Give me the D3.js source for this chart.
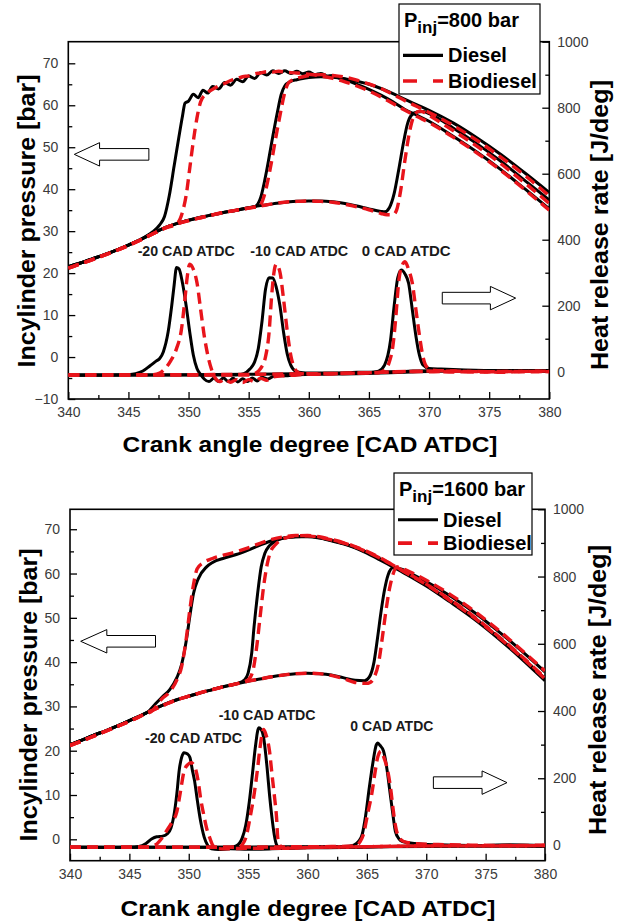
<!DOCTYPE html>
<html>
<head>
<meta charset="utf-8">
<script src="https://cdn.jsdelivr.net/npm/d3@7"></script>
<style>
  body { margin: 0; background: #fff; }
  svg { display: block; font-family: "Liberation Sans", Arial, sans-serif; }
</style>
</head>
<body>
<div id="chart"></div>
<script>
// ---- tick values ----
const cadTicks = [340, 345, 350, 355, 360, 365, 370, 375, 380];
const cadMinor = [342.5, 347.5, 352.5, 357.5, 362.5, 367.5, 372.5, 377.5];
const presTicksTop = [-10, 0, 10, 20, 30, 40, 50, 60, 70];
const presMinorTop = [-5, 5, 15, 25, 35, 45, 55, 65];
const presTicksBot = [0, 10, 20, 30, 40, 50, 60, 70];
const presMinorBot = [5, 15, 25, 35, 45, 55, 65];
const hrrTicks = [0, 200, 400, 600, 800, 1000];
const hrrMinor = [100, 300, 500, 700, 900];
const timingLabels = ["-20 CAD ATDC", "-10 CAD ATDC", "0 CAD ATDC"];

// ---- 800 bar : in-cylinder pressure [bar] ----
const motored800D = [[340,21.5],[341,22.4],[342,23.4],[343,24.4],[344,25.5],[345,26.7],[346,28.0],[347,29.4],[348,30.8],[349,31.8],[350,32.6],[351,33.3],[352,33.9],[353,34.5],[354,35.0],[355,35.6],[356,36.1],[357,36.5],[358,36.9],[359,37.1],[360,37.2],[361,37.2],[362,37.0],[363,36.6],[364,36.0],[365,35.3],[366,34.7],[366.3,34.6]];
const motored800B = [[340,21.2],[341,22.2],[342,23.2],[343,24.3],[344,25.4],[345,26.6],[346,27.9],[347,29.3],[348,30.7],[349,31.7],[350,32.5],[351,33.2],[352,33.9],[353,34.5],[354,35.0],[355,35.5],[356,36.0],[357,36.5],[358,36.9],[359,37.1],[360,37.2],[361,37.1],[362,36.9],[363,36.4],[364,35.8],[365,35.1],[366,34.2],[366.5,33.9],[367,33.9]];
const p800D20 = [[346,28.0],[347,29.8],[347.6,31.5],[348,33.5],[348.4,38.5],[348.8,45.5],[349.2,52.5],[349.5,57.5],[349.7,60.5],[350.0,61.0],[350.4,62.6],[350.8,61.8],[351.2,63.6],[351.6,62.9],[352.0,64.5],[352.5,63.9],[353.0,65.4],[353.5,64.8],[354.0,66.2],[354.5,65.6],[355.0,67.0],[355.5,66.4],[356.0,67.8],[356.5,67.2],[357.0,68.2],[357.5,67.6],[358.0,68.2],[358.5,67.6],[359.0,68.1],[359.5,67.5],[360.0,67.9],[360.5,67.3],[361.0,67.6],[361.5,67.0],[362.0,67.1],[362.5,66.5],[363.0,66.2],[363.5,65.6],[364,65.0],[365,63.8],[366,62.4],[367,60.8],[368,59.0],[369,57.6],[370,56.2],[372,52.6],[374,48.8],[376,44.6],[378,40.0],[380,35.3]];
const p800D10 = [[355.5,35.8],[356,38.0],[356.5,44.5],[357,52.5],[357.4,58.5],[357.7,62.5],[358.0,64.6],[358.5,65.7],[359,66.1],[359.5,66.4],[360,66.6],[361,66.8],[362,66.7],[363,66.3],[364,65.7],[365,65.0],[366,64.0],[367,62.8],[368,61.4],[369,60.1],[370,58.8],[372,55.8],[374,52.2],[376,48.2],[378,43.8],[380,39.2]];
const p800D0 = [[366.3,34.6],[366.7,35.6],[367.1,39.0],[367.5,45.0],[367.9,51.5],[368.2,55.5],[368.5,57.5],[369,58.4],[369.5,58.5],[370,58.0],[372,54.6],[374,50.8],[376,46.6],[378,42.0],[380,37.4]];
const p800B20 = [[349,31.7],[349.5,34.6],[349.8,38.5],[350.1,45.0],[350.4,51.5],[350.7,57.0],[351.0,60.8],[351.4,62.6],[352,63.8],[352.5,64.6],[353,65.2],[353.5,65.9],[354,66.3],[354.5,66.8],[355,67.0],[355.5,67.5],[356,67.7],[356.5,68.0],[357,67.9],[357.5,68.1],[358,67.9],[359,67.7],[360,67.4],[361,67.0],[362,66.4],[363,65.6],[364,64.6],[365,63.4],[366,62.0],[367,60.4],[368,58.8],[369,57.3],[370,55.9],[372,52.4],[374,48.6],[376,44.4],[378,39.8],[380,35.0]];
const p800B10 = [[355.9,36.0],[356.3,38.5],[356.8,45.0],[357.3,53.0],[357.7,59.0],[358.0,63.0],[358.3,65.3],[358.8,66.2],[359.5,66.8],[360,67.1],[361,67.3],[362,67.1],[363,66.7],[364,66.0],[365,65.1],[366,64.0],[367,62.6],[368,61.1],[369,59.7],[370,58.3],[372,55.2],[374,51.6],[376,47.6],[378,43.2],[380,38.4]];
const p800B0 = [[367,33.9],[367.3,35.0],[367.6,39.0],[368.0,47.0],[368.4,54.0],[368.8,57.8],[369.2,58.6],[369.6,58.3],[370,57.6],[372,54.0],[374,50.2],[376,46.0],[378,41.4],[380,36.6]];

// ---- 800 bar : heat release rate [J/deg] ----
const h800D20 = [[340,-10],[342,-11],[344,-10],[345,-9],[345.6,-6],[346.2,2],[346.8,18],[347.3,32],[347.6,40],[347.9,60],[348.3,120],[348.6,200],[348.8,262],[349.0,316],[349.2,312],[349.5,268],[349.8,200],[350.1,120],[350.4,50],[350.7,10],[351.0,-8],[351.3,-22],[351.7,-30],[352.1,-20],[352.5,-30],[352.9,-19],[353.3,-30],[353.7,-20],[354.1,-31],[354.5,-21],[354.9,-30],[355.3,-19],[355.7,-28],[356.1,-17],[356.6,-22],[357.2,-12],[358,-12],[359,-9],[360,-8],[362,-7],[364,-6],[366,-4],[368,-2],[370,1],[372,3],[374,2],[376,4],[378,3],[380,3]];
const h800D10 = [[340,-10],[345,-10],[350,-10],[354,-10],[354.6,-6],[355.1,8],[355.5,30],[355.8,70],[356.1,150],[356.4,250],[356.7,285],[357.0,284],[357.3,255],[357.6,200],[357.9,120],[358.2,55],[358.5,20],[358.9,2],[359.5,-3],[360,-4],[362,-4],[364,-2],[366,-1],[368,1],[370,3],[372,2],[375,3],[378,2],[380,3]];
const h800D0 = [[340,-10],[345,-10],[350,-9],[355,-8],[360,-6],[363,-5],[365,-3],[365.8,2],[366.3,20],[366.8,96],[367.1,200],[367.4,285],[367.7,308],[368.0,296],[368.3,268],[368.6,190],[368.9,110],[369.2,50],[369.5,20],[370,10],[371,8],[373,5],[376,3],[380,4]];
const h800B20 = [[340,-10],[344,-10],[347,-9],[347.6,-4],[348.0,8],[348.5,32],[349.0,70],[349.4,126],[349.7,220],[349.9,290],[350.1,326],[350.4,310],[350.7,270],[351.0,190],[351.3,110],[351.6,50],[351.9,8],[352.2,-18],[352.6,-30],[353.0,-22],[353.5,-32],[354.0,-24],[354.5,-33],[355.0,-24],[355.5,-30],[356,-20],[356.5,-26],[357,-16],[358,-12],[359,-10],[360,-7],[362,-6],[364,-4],[366,-2],[368,0],[370,2],[372,-1],[374,1],[376,-2],[378,1],[380,0]];
const h800B10 = [[340,-10],[345,-10],[350,-10],[355,-10],[355.6,-4],[356.0,10],[356.4,45],[356.7,120],[356.9,225],[357.1,300],[357.3,326],[357.6,302],[357.9,220],[358.2,125],[358.5,50],[358.8,12],[359.2,-4],[360,-8],[362,-6],[364,-4],[366,-2],[368,1],[370,0],[372,2],[374,-1],[376,1],[378,0],[380,1]];
const h800B0 = [[340,-10],[345,-10],[350,-9],[355,-8],[360,-6],[364,-4],[365.8,-3],[366.3,5],[366.7,30],[367.0,80],[367.2,150],[367.5,280],[367.8,325],[368.0,333],[368.3,310],[368.6,270],[368.9,190],[369.2,110],[369.5,45],[369.8,15],[370.3,5],[372,2],[375,0],[378,1],[380,2]];

// ---- 1600 bar : in-cylinder pressure [bar] ----
const motored1600D = [[340,21.4],[341,22.4],[342,23.5],[343,24.5],[344,25.6],[345,26.8],[346,28.0],[347,29.3],[348,30.5],[349,31.5],[350,32.3],[351,33.1],[352,33.8],[353,34.5],[354,35.1],[355,35.7],[356,36.2],[357,36.7],[358,37.1],[359,37.4],[360,37.5],[361,37.4],[362,37.1],[363,36.5],[364,35.9],[364.8,35.8]];
const motored1600B = [[340,21.2],[341,22.2],[342,23.3],[343,24.4],[344,25.5],[345,26.6],[346,27.9],[347,29.2],[348,30.4],[349,31.5],[350,32.3],[351,33.1],[352,33.8],[353,34.5],[354,35.1],[355,35.7],[356,36.2],[357,36.7],[358,37.1],[359,37.4],[360,37.5],[361,37.4],[362,37.0],[363,36.3],[364,35.4],[365,35.2]];
const p1600D20 = [[346.5,28.6],[347.2,30.6],[347.8,32.2],[348.4,33.8],[349,36.5],[349.4,39.5],[349.8,45.0],[350.1,50.5],[350.4,55.5],[350.8,58.8],[351.5,61.5],[352,62.5],[353,63.5],[354,64.3],[355,65.3],[356,66.4],[357,67.4],[358,68.0],[359,68.3],[360,68.3],[361,68.0],[362,67.4],[363,66.7],[364,65.8],[365,64.6],[366,63.2],[367,61.8],[368,60.3],[369,58.8],[370,57.2],[372,53.6],[374,49.8],[376,45.5],[378,40.8],[380,35.8]];
const p1600D10 = [[354.7,36.0],[355.0,37.5],[355.3,42.0],[355.5,48.0],[355.8,55.5],[356.1,61.5],[356.4,64.5],[356.8,66.3],[357.3,67.3],[358,68.0],[359,68.3],[360,68.4],[361,68.1],[362,67.5],[363,66.8],[364,65.9],[365,64.8],[366,63.5],[367,62.0],[368,60.5],[369,59.0],[370,57.4],[372,53.9],[374,50.1],[376,45.8],[378,41.2],[380,36.3]];
const p1600D0 = [[364.8,35.8],[365.2,36.6],[365.6,40.0],[365.9,45.5],[366.2,51.5],[366.5,56.5],[366.8,59.8],[367.2,61.3],[367.6,61.2],[368,60.9],[369,59.6],[370,58.2],[372,55.0],[374,51.3],[376,47.1],[378,42.6],[380,37.8]];
const p1600B20 = [[347,29.2],[347.7,31.6],[348.4,33.3],[349,36.0],[349.4,39.0],[349.8,45.5],[350.1,52.0],[350.4,57.5],[350.7,61.0],[351.2,62.4],[352,63.4],[353,64.2],[354,64.9],[355,65.8],[356,66.8],[357,67.7],[358,68.3],[359,68.6],[360,68.5],[361,68.2],[362,67.6],[363,66.9],[364,66.0],[365,64.9],[366,63.6],[367,62.2],[368,60.6],[369,59.1],[370,57.5],[372,53.9],[374,50.1],[376,45.8],[378,41.2],[380,36.2]];
const p1600B10 = [[355.0,36.0],[355.4,38.0],[355.7,43.0],[356.0,50.0],[356.3,57.0],[356.6,62.0],[356.9,65.0],[357.3,66.5],[358,67.9],[359,68.5],[360,68.6],[361,68.3],[362,67.7],[363,67.0],[364,66.1],[365,65.0],[366,63.7],[367,62.2],[368,60.7],[369,59.2],[370,57.6],[372,54.1],[374,50.3],[376,46.0],[378,41.4],[380,36.5]];
const p1600B0 = [[365.2,35.3],[365.6,36.5],[366.0,40.0],[366.3,45.5],[366.6,51.5],[366.9,56.5],[367.2,59.8],[367.5,61.5],[367.8,61.5],[368.2,60.9],[369,59.9],[370,58.5],[372,55.3],[374,51.6],[376,47.4],[378,42.8],[380,38.0]];

// ---- 1600 bar : heat release rate [J/deg] ----
const h1600D20 = [[340,-5],[343,-6],[345,-5],[345.8,-3],[346.4,6],[346.9,20],[347.3,26],[347.8,28],[348.2,35],[348.5,52],[348.8,100],[349.0,155],[349.2,225],[349.4,262],[349.6,276],[349.9,272],[350.1,262],[350.3,225],[350.5,190],[350.7,140],[351.0,72],[351.3,25],[351.6,0],[351.9,-10],[352.5,-12],[353.5,-10],[355,-11],[357,-10],[360,-7],[363,-6],[366,-4],[370,-3],[375,-2],[380,-3]];
const h1600D10 = [[340,-5],[350,-5],[353.5,-5],[354.0,-1],[354.5,22],[354.8,60],[355.1,130],[355.4,225],[355.6,290],[355.9,350],[356.1,345],[356.3,322],[356.6,230],[356.8,151],[357.0,85],[357.2,32],[357.4,2],[357.7,-8],[358.5,-8],[360,-6],[364,-5],[368,-2],[372,-1],[376,-1],[380,0]];
const h1600D0 = [[340,-5],[350,-5],[358,-4],[362,-3],[363.5,-2],[363.9,1],[364.3,12],[364.6,32],[364.9,90],[365.2,171],[365.5,245],[365.8,300],[365.9,305],[366.1,298],[366.4,281],[366.7,225],[366.9,171],[367.2,90],[367.4,42],[367.7,20],[368,12],[369,6],[371,2],[374,0],[377,2],[380,0]];
const h1600B20 = [[340,-5],[345,-5],[346.5,-4],[347.2,2],[347.7,20],[348.1,42],[348.6,70],[349.0,101],[349.3,160],[349.6,220],[349.9,240],[350.2,246],[350.5,235],[350.8,190],[351.0,140],[351.3,85],[351.5,52],[351.8,20],[352.0,2],[352.4,-9],[353,-10],[354,-9],[356,-8],[358,-8],[360,-6],[364,-4],[368,-2],[372,-1],[376,-1],[380,0]];
const h1600B10 = [[340,-5],[350,-5],[354.2,-5],[354.5,2],[354.8,22],[355.2,90],[355.5,151],[355.8,230],[356.0,291],[356.3,345],[356.5,330],[356.8,281],[357.0,215],[357.2,151],[357.4,80],[357.5,22],[357.9,-8],[358.5,-8],[360,-6],[364,-4],[368,-2],[372,-1],[376,-1],[380,0]];
const h1600B0 = [[340,-5],[350,-5],[358,-4],[362,-3],[364,-1],[364.4,10],[364.7,32],[365.1,100],[365.4,151],[365.7,220],[365.9,261],[366.2,281],[366.4,265],[366.7,231],[367.0,170],[367.2,111],[367.4,60],[367.6,32],[368.1,12],[369,6],[371,3],[374,1],[377,0],[380,1]];

// ---- annotation anchors (data coordinates) ----
const labelPos800 = [[349.8, 24.1], [359.2, 24.1], [368.1, 24.1]];
const labelPos1600 = [[350.4, 21.7], [356.6, 26.9], [367.1, 24.4]];

// join the motored trace with the firing part that starts after it
function fired(motored, pts) {
  return motored.filter(d => d[0] < pts[0][0]).concat(pts);
}

const W = 623, H = 922;
const svg = d3.select("#chart").append("svg")
  .attr("width", W).attr("height", H);
svg.append("rect").attr("width", W).attr("height", H).attr("fill", "#fff");

const panels = [
  {
    id: "p800", box: {l: 68.3, r: 549.3, t: 41.7, b: 399},
    yL: [-10, 75.15], yR: [-82.7, 1000],
    presTicks: presTicksTop, presMinor: presMinorTop,
    diesel: [fired(motored800D, p800D20), fired(motored800D, p800D10), fired(motored800D, p800D0)],
    bio: [fired(motored800B, p800B20), fired(motored800B, p800B10), fired(motored800B, p800B0)],
    dieselH: [h800D20, h800D10, h800D0],
    bioH: [h800B20, h800B10, h800B0],
    labels: labelPos800, labelW: [97, 98, 89],
    arrowL: {tip: 340.5, base: 342.6, tail: 346.7, v: 48.3},
    arrowR: {tip: 377.2, base: 375.1, tail: 371.1, v: 223},
    legend: {x: 399, y: 4, w: 141, h: 90, title: "=800 bar"},
    yTitleL: {x: 35, y: 221}, yTitleR: {x: 608, y: 225}, xTitle: {x: 310, y: 452}
  },
  {
    id: "p1600", box: {l: 70, r: 545, t: 509.3, b: 860.7},
    yL: [-4.83, 74.5], yR: [-45.2, 1000],
    presTicks: presTicksBot, presMinor: presMinorBot,
    diesel: [fired(motored1600D, p1600D20), fired(motored1600D, p1600D10), fired(motored1600D, p1600D0)],
    bio: [fired(motored1600B, p1600B20), fired(motored1600B, p1600B10), fired(motored1600B, p1600B0)],
    dieselH: [h1600D20, h1600D10, h1600D0],
    bioH: [h1600B20, h1600B10, h1600B0],
    labels: labelPos1600, labelW: [97, 97, 83],
    arrowL: {tip: 340.9, base: 343.1, tail: 347.2, v: 44.7},
    arrowR: {tip: 376.8, base: 374.7, tail: 370.6, v: 187},
    legend: {x: 394, y: 473, w: 138, h: 82, title: "=1600 bar"},
    yTitleL: {x: 37, y: 695}, yTitleR: {x: 606, y: 690}, xTitle: {x: 308, y: 916}
  }
];

panels.forEach(cfg => {
  const b = cfg.box;
  const x = d3.scaleLinear().domain([340, 380]).range([b.l, b.r]);
  const yL = d3.scaleLinear().domain(cfg.yL).range([b.b, b.t]);
  const yR = d3.scaleLinear().domain(cfg.yR).range([b.b, b.t]);
  const g = svg.append("g");
  const fmt = d3.format("d");

  g.append("clipPath").attr("id", "clip-" + cfg.id)
    .append("rect").attr("x", b.l).attr("y", b.t)
    .attr("width", b.r - b.l).attr("height", b.b - b.t);

  // axes: inward ticks
  const styleAxis = sel => {
    sel.select(".domain").remove();
    sel.selectAll("line").attr("stroke", "#000").attr("stroke-width", 1.3);
    sel.selectAll("text").attr("font-size", 14).attr("fill", "#3a3a3a")
      .attr("font-family", "Liberation Sans, Arial, sans-serif");
  };
  g.append("g").attr("transform", `translate(0,${b.b})`)
    .call(d3.axisBottom(x).tickValues(cadTicks).tickFormat(fmt).tickSizeInner(-7).tickSizeOuter(0).tickPadding(8))
    .call(styleAxis);
  g.append("g").attr("transform", `translate(0,${b.b})`)
    .call(d3.axisBottom(x).tickValues(cadMinor).tickSizeInner(-4).tickSizeOuter(0).tickFormat(""))
    .call(styleAxis);
  g.append("g").attr("transform", `translate(${b.l},0)`)
    .call(d3.axisLeft(yL).tickValues(cfg.presTicks).tickFormat(fmt).tickSizeInner(-7).tickSizeOuter(0).tickPadding(10))
    .call(styleAxis);
  g.append("g").attr("transform", `translate(${b.l},0)`)
    .call(d3.axisLeft(yL).tickValues(cfg.presMinor).tickSizeInner(-4).tickSizeOuter(0).tickFormat(""))
    .call(styleAxis);
  g.append("g").attr("transform", `translate(${b.r},0)`)
    .call(d3.axisRight(yR).tickValues(hrrTicks).tickFormat(fmt).tickSizeInner(-7).tickSizeOuter(0).tickPadding(8))
    .call(styleAxis);
  g.append("g").attr("transform", `translate(${b.r},0)`)
    .call(d3.axisRight(yR).tickValues(hrrMinor).tickSizeInner(-4).tickSizeOuter(0).tickFormat(""))
    .call(styleAxis);

  // frame
  g.append("rect").attr("x", b.l).attr("y", b.t)
    .attr("width", b.r - b.l).attr("height", b.b - b.t)
    .attr("fill", "none").attr("stroke", "#000").attr("stroke-width", 1.6);

  const lineL = d3.line().x(d => x(d[0])).y(d => yL(d[1])).curve(d3.curveMonotoneX);
  const lineR = d3.line().x(d => x(d[0])).y(d => yR(d[1])).curve(d3.curveMonotoneX);
  const curves = g.append("g").attr("clip-path", `url(#clip-${cfg.id})`);

  // diesel (black solid) first, biodiesel (red dashed) on top
  cfg.dieselH.forEach(s => curves.append("path").attr("d", lineR(s))
    .attr("fill", "none").attr("stroke", "#000").attr("stroke-width", 3).attr("stroke-linejoin", "round"));
  cfg.diesel.forEach(s => curves.append("path").attr("d", lineL(s))
    .attr("fill", "none").attr("stroke", "#000").attr("stroke-width", 3).attr("stroke-linejoin", "round"));
  cfg.bioH.forEach(s => curves.append("path").attr("d", lineR(s))
    .attr("fill", "none").attr("stroke", "#e8141b").attr("stroke-width", 3.4).attr("stroke-dasharray", "11,6"));
  cfg.bio.forEach(s => curves.append("path").attr("d", lineL(s))
    .attr("fill", "none").attr("stroke", "#e8141b").attr("stroke-width", 3.4).attr("stroke-dasharray", "11,6"));

  // injection timing labels
  cfg.labels.forEach((p, i) => {
    g.append("text").attr("x", x(p[0])).attr("y", yL(p[1]))
      .attr("text-anchor", "middle").attr("font-size", 15).attr("font-weight", "bold")
      .attr("fill", "#1a1a1a")
      .attr("textLength", cfg.labelW[i]).attr("lengthAdjust", "spacingAndGlyphs")
      .text(timingLabels[i]);
  });

  // hollow arrows pointing at the axis each curve family belongs to
  const arrow = (a, yScale) => {
    const y0 = yScale(a.v), hh = 11.7, sh = 5.8;
    const pts = [[x(a.tip), y0], [x(a.base), y0 - hh], [x(a.base), y0 - sh], [x(a.tail), y0 - sh],
                 [x(a.tail), y0 + sh], [x(a.base), y0 + sh], [x(a.base), y0 + hh]];
    g.append("path").attr("d", "M" + pts.join("L") + "Z")
      .attr("fill", "#fff").attr("stroke", "#000").attr("stroke-width", 1);
  };
  arrow(cfg.arrowL, yL);
  arrow(cfg.arrowR, yR);

  // axis titles
  g.append("text").attr("transform", `translate(${cfg.yTitleL.x},${cfg.yTitleL.y}) rotate(-90)`)
    .attr("text-anchor", "middle").attr("font-size", 24).attr("font-weight", "bold")
    .attr("textLength", 293).attr("lengthAdjust", "spacingAndGlyphs")
    .text("Incylinder pressure [bar]");
  g.append("text").attr("transform", `translate(${cfg.yTitleR.x},${cfg.yTitleR.y}) rotate(-90)`)
    .attr("text-anchor", "middle").attr("font-size", 24).attr("font-weight", "bold")
    .attr("textLength", 290).attr("lengthAdjust", "spacingAndGlyphs")
    .text("Heat release rate [J/deg]");
  g.append("text").attr("x", cfg.xTitle.x).attr("y", cfg.xTitle.y)
    .attr("text-anchor", "middle").attr("font-size", 22).attr("font-weight", "bold")
    .attr("textLength", 375).attr("lengthAdjust", "spacingAndGlyphs")
    .text("Crank angle degree [CAD ATDC]");

  // legend
  const L = cfg.legend;
  const lg = g.append("g").attr("transform", `translate(${L.x},${L.y})`);
  lg.append("rect").attr("width", L.w).attr("height", L.h)
    .attr("fill", "#fff").attr("stroke", "#000").attr("stroke-width", 1.2);
  const title = lg.append("text").attr("x", 5).attr("y", 23)
    .attr("font-size", 20).attr("font-weight", "bold");
  title.append("tspan").text("P");
  title.append("tspan").attr("dy", 6).attr("font-size", 17).text("inj");
  title.append("tspan").attr("dy", -6).text(L.title);
  const rowY = [L.h * 0.57, L.h * 0.855];
  lg.append("line").attr("x1", 4).attr("x2", 44).attr("y1", rowY[0]).attr("y2", rowY[0])
    .attr("stroke", "#000").attr("stroke-width", 3.2);
  lg.append("line").attr("x1", 4).attr("x2", 44).attr("y1", rowY[1]).attr("y2", rowY[1])
    .attr("stroke", "#e8141b").attr("stroke-width", 3.6).attr("stroke-dasharray", "14,16");
  lg.append("text").attr("x", 49).attr("y", rowY[0] + 7).attr("font-size", 20)
    .attr("font-weight", "bold").text("Diesel");
  lg.append("text").attr("x", 49).attr("y", rowY[1] + 7).attr("font-size", 20)
    .attr("font-weight", "bold").text("Biodiesel");
});
</script>
</body>
</html>
